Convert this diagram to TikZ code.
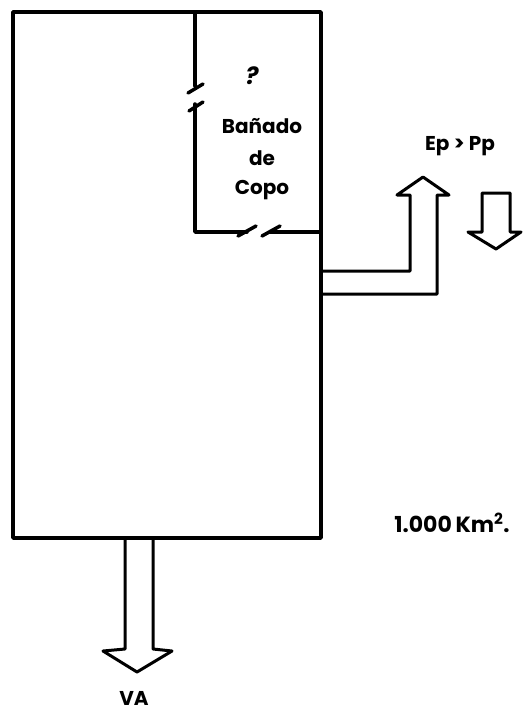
\documentclass[tikz,border=0pt]{standalone}
\usepackage{fontspec}
\setmainfont{Poppins}
\begin{document}
\begin{tikzpicture}[x=1pt, y=-1pt,
  wall/.style={line width=3.5pt, line cap=round, line join=round},
  flux/.style={line width=3pt, line join=round},
  lbl/.style={font=\fontsize{20}{24}\selectfont\bfseries, inner sep=0pt}]

  \useasboundingbox (0,0) rectangle (523,714);

  % --- cuenca ---
  \draw[wall] (13,12) rectangle (321,538);

  % --- bañado (tramos cortados) ---
  \draw[wall] (195,12) -- (195,86);
  \draw[wall] (188,93) -- (203,84);
  \draw[wall] (189,111) -- (203,102);
  \draw[wall] (195,104) -- (195,232) -- (247,232);
  \draw[wall] (238,236) -- (256,226);
  \draw[wall] (262,236) -- (280,226);
  \draw[wall] (270,232) -- (321,232);

  \node[lbl, font=\fontsize{24}{26}\selectfont\bfseries\itshape] (duda) at (252,76) {?};
  \node[lbl] (banado) at (262,126) {Bañado};
  \node[lbl] (de) at (262,158) {de};
  \node[lbl] (copo) at (262,190) {Copo};

  % --- Ep (flecha hacia arriba) ---
  \draw[flux] (321,271) -- (410,271) -- (410,195) -- (397,195) -- (423,177)
    -- (449,195) -- (437,195) -- (437,294) -- (321,294);
  \node[lbl] (evap) at (460,146) {Ep > Pp};

  % --- Pp (flecha hacia abajo) ---
  \draw[flux] (482,193) -- (510,193) -- (510,232) -- (521,232) -- (496,249)
    -- (468,232) -- (482,232) -- cycle;

  % --- VA (salida) ---
  \draw[flux] (125,538) -- (125,649) -- (103,651) -- (137,672) -- (172,651)
    -- (153,649) -- (153,538);
  \node[lbl] (va) at (134,698) {VA};

  % --- superficie ---
  \node[lbl, font=\fontsize{22}{26}\selectfont\bfseries] (area) at (452,523)
    {1.000\,Km\textsuperscript{2}.};

\end{tikzpicture}
\end{document}
